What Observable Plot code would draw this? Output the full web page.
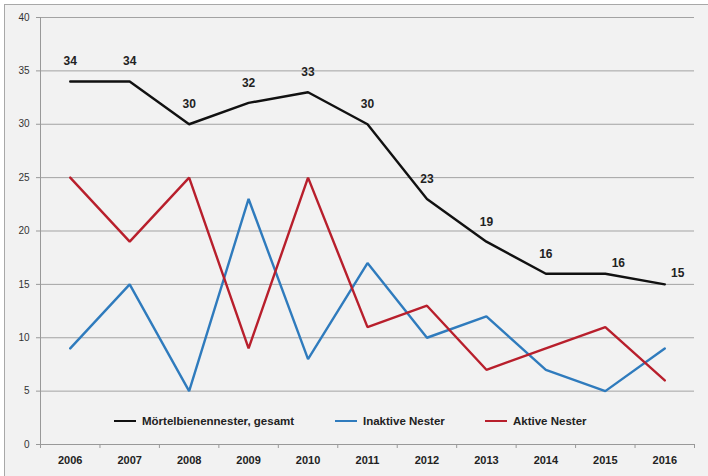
<!DOCTYPE html>
<html>
<head>
<meta charset="utf-8">
<script src="https://cdn.jsdelivr.net/npm/d3@7"></script>
<script src="https://cdn.jsdelivr.net/npm/@observablehq/plot@0.6"></script>
<style>
  html, body { margin: 0; padding: 0; background: #ffffff; overflow: hidden; }
  #wrap { position: relative; width: 708px; height: 476px; }
  #panel {
    position: absolute; left: 4px; top: 4px; width: 720px; height: 490px;
    background: #f2f2f2; border: 1.5px solid #a8a8a8; box-sizing: border-box;
  }
  #chart { position: absolute; left: 0; top: 0; }
  #chart svg { background: transparent; }
  .legend { position: absolute; top: 413px; height: 16px; display: flex; align-items: center;
    font: bold 11.5px "Liberation Sans", Arial, sans-serif; color: #222; white-space: nowrap; }
  .legend .sw { display: inline-block; width: 22px; height: 2.5px; margin-right: 6px; }
</style>
</head>
<body>
<div id="wrap">
  <div id="panel"></div>
  <div id="chart"></div>
</div>
<script>
// Mortar bee nests counted per year
const years = [2006, 2007, 2008, 2009, 2010, 2011, 2012, 2013, 2014, 2015, 2016];
const gesamt = [34, 34, 30, 32, 33, 30, 23, 19, 16, 16, 15];
const inaktive = [9, 15, 5, 23, 8, 17, 10, 12, 7, 5, 9];
const aktive = [25, 19, 25, 9, 25, 11, 13, 7, 9, 11, 6];
const yTicks = [0, 5, 10, 15, 20, 25, 30, 35, 40];

const seriesNames = ["Mörtelbienennester, gesamt", "Inaktive Nester", "Aktive Nester"];
const seriesColors = ["#111111", "#2f7bbd", "#b81f2c"];
const seriesValues = [gesamt, inaktive, aktive];

const rows = seriesNames.flatMap((name, i) =>
  years.map((year, j) => ({series: name, year, value: seriesValues[i][j]}))
);
const totals = years.map((year, j) => ({year, value: gesamt[j]}));
// category boundaries for the small ticks under the x axis
const bounds = [years[0] - 0.5, ...years.map(y => y + 0.5)];

const font = '"Liberation Sans", Arial, sans-serif';

const chart = Plot.plot({
  width: 708,
  height: 476,
  marginLeft: 40,
  marginRight: 14,
  marginTop: 17,
  marginBottom: 32,
  style: {fontFamily: font, background: "transparent", overflow: "visible"},
  x: {type: "linear", domain: [years[0] - 0.5, years[years.length - 1] + 0.5]},
  y: {domain: [0, 40]},
  color: {domain: seriesNames, range: seriesColors},
  marks: [
    Plot.gridY(yTicks, {stroke: "#a3a3a3", strokeOpacity: 1, strokeWidth: 1}),
    Plot.axisY(yTicks, {tickSize: 4, tickPadding: 7, stroke: "#999", fill: "#333",
      fontSize: 10, label: null}),
    Plot.axisX(bounds, {tickSize: 4, tickFormat: () => "", stroke: "#999", label: null}),
    Plot.axisX(years, {tickSize: 0, tickPadding: 12, tickFormat: d => String(d),
      fill: "#222", fontSize: 11, fontWeight: "bold", label: null}),
    Plot.frame({anchor: "left", stroke: "#999"}),
    Plot.frame({anchor: "bottom", stroke: "#999"}),
    Plot.line(rows, {x: "year", y: "value", z: "series", stroke: "series",
      strokeWidth: 2.4, strokeLinejoin: "miter"}),
    Plot.text(totals.filter(d => d.year < 2015), {x: "year", y: "value", text: d => String(d.value),
      dy: -20, fontSize: 12, fontWeight: "bold", fill: "#222"}),
    Plot.text(totals.filter(d => d.year >= 2015), {x: "year", y: "value", text: d => String(d.value),
      dx: 13, dy: -11, fontSize: 12, fontWeight: "bold", fill: "#222"})
  ]
});
document.getElementById("chart").appendChild(chart);

// legend drawn inside the plot area
const legendLeft = [114, 335, 485];
const wrap = document.getElementById("wrap");
seriesNames.forEach((name, i) => {
  const item = document.createElement("div");
  item.className = "legend";
  item.style.left = legendLeft[i] + "px";
  const sw = document.createElement("span");
  sw.className = "sw";
  sw.style.background = seriesColors[i];
  item.appendChild(sw);
  item.appendChild(document.createTextNode(name));
  wrap.appendChild(item);
});
</script>
</body>
</html>
